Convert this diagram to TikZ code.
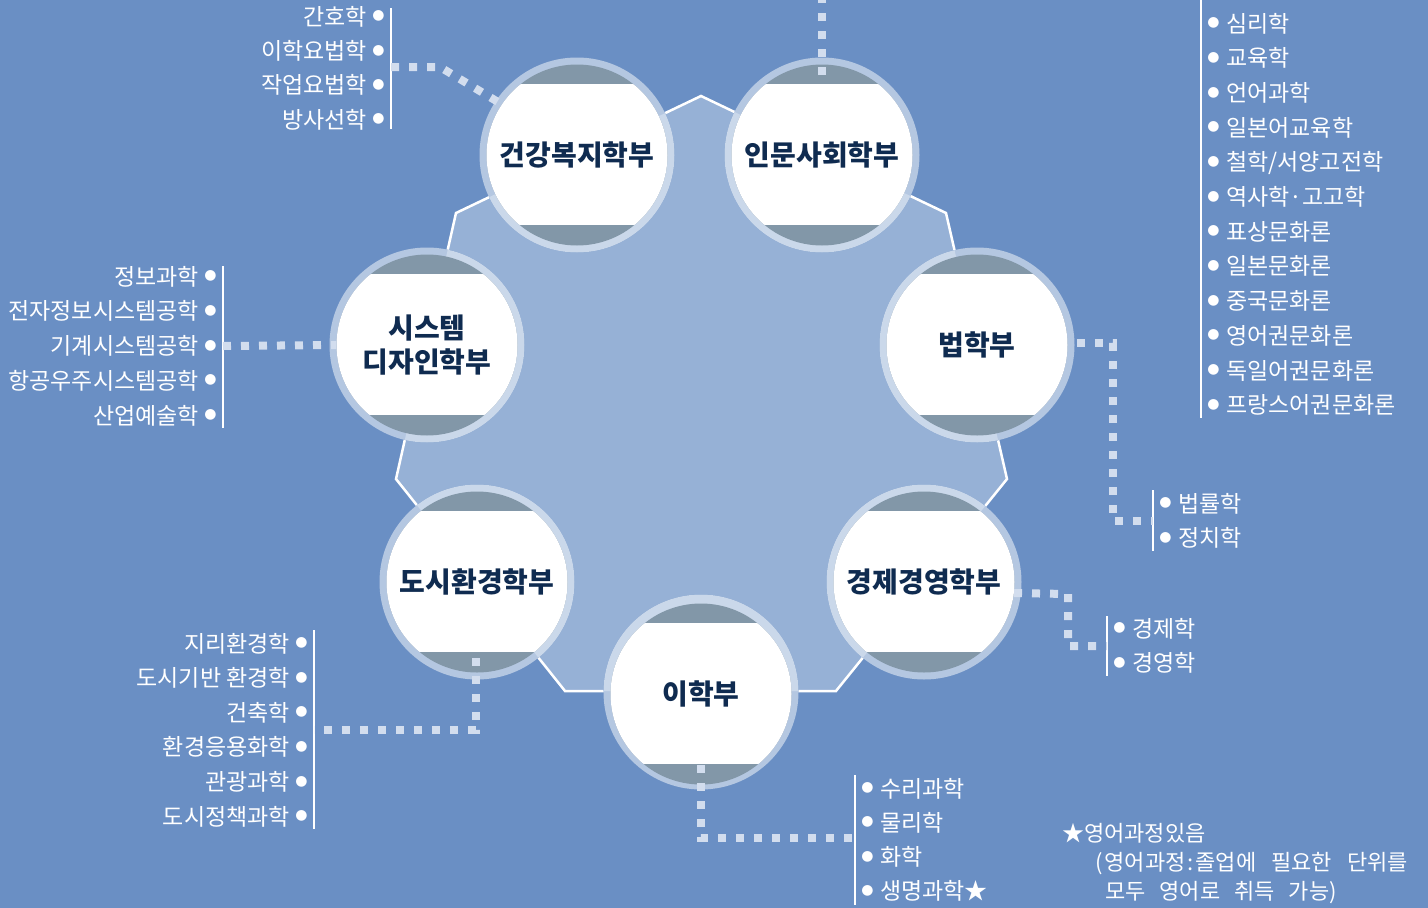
\documentclass[tikz,border=0pt]{standalone}
\usepackage{fontspec}
\setmainfont{Noto Sans CJK KR}
\newfontfamily\djfont{DejaVu Sans}
\usetikzlibrary{calc}
\definecolor{bg}{HTML}{6A8FC4}
\definecolor{polyfill}{HTML}{96B1D6}
\definecolor{capgray}{HTML}{8297A8}
\definecolor{dotcol}{HTML}{D2DDEE}
\definecolor{navy}{HTML}{0F2B50}
\newcommand\mypoly{(701,96) -- (946,213) -- (1007,479) -- (836,691) -- (565,691) -- (396,479) -- (456,213) -- cycle}
\tikzset{
  school/.style={circle, minimum size=181pt, inner sep=0pt, fill=capgray, text=navy,
    font=\fontsize{28}{34}\selectfont\bfseries, align=center,
    path picture={\fill[white] ([xshift=-100pt,yshift=-70pt]path picture bounding box.center) rectangle ([xshift=100pt,yshift=71pt]path picture bounding box.center);}},
  dotline/.style={dotcol, line width=8pt, dash pattern=on 8pt off 10pt},
  listline/.style={white, line width=1.8pt},
  litem/.style={text=white, font=\fontsize{23}{23}\selectfont, inner sep=0pt},
  notetext/.style={text=white, font=\fontsize{22}{22}\selectfont, inner sep=0pt, anchor=base west},
  bul/.style={text=white, font={\djfont\fontsize{14}{14}\selectfont}, inner sep=0pt},
}
\begin{document}
\begin{tikzpicture}[x=1pt,y=-1pt]
\useasboundingbox (0,0) rectangle (1428,908);
\fill[bg] (0,0) rectangle (1428,908);
\fill[polyfill] \mypoly;
\draw[white, line width=2.5pt] \mypoly;
% circle centres
\coordinate (p1) at (577,155);
\coordinate (p2) at (822,155);
\coordinate (p3) at (427,345);
\coordinate (p4) at (977,345);
\coordinate (p5) at (477,582);
\coordinate (p6) at (924,582);
\coordinate (p7) at (701,692);
\foreach \n in {p1,p2,p3,p4,p5,p6,p7}{
  \fill[bg] (\n) circle (97.5pt);
  \begin{scope}\clip \mypoly; \fill[polyfill] (\n) circle (97.5pt);\end{scope}
  \fill[white, opacity=.5] (\n) circle (97.5pt);
}
% school nodes
\node[school] (c1) at (p1) {건강복지학부};
\node[school] (c2) at (p2) {인문사회학부};
\node[school] (c3) at (p3) {시스템\\디자인학부};
\node[school] (c4) at (p4) {법학부};
\node[school] (c5) at (p5) {도시환경학부};
\node[school] (c6) at (p6) {경제경영학부};
\node[school] (c7) at ($(p7)+(0,2)$) {이학부};

% ---- list lines
\coordinate (hA) at (391,8);    \coordinate (hB) at (391,129);
\coordinate (iA) at (1201,0);   \coordinate (iB) at (1201,418);
\coordinate (sA) at (223,266);  \coordinate (sB) at (223,428);
\coordinate (lA) at (1153,490); \coordinate (lB) at (1153,551);
\coordinate (eA) at (1107,616); \coordinate (eB) at (1107,676);
\coordinate (dA) at (314,630);  \coordinate (dB) at (314,829);
\coordinate (rA) at (855,775);  \coordinate (rB) at (855,905);
\foreach \a/\b in {hA/hB,iA/iB,sA/sB,lA/lB,eA/eB,dA/dB,rA/rB}{\draw[listline] (\a) -- (\b);}

% ---- left lists (text, bullet)
\foreach \t [count=\i] in {간호학,이학요법학,작업요법학,방사선학}{
  \node[litem, anchor=base east] (h\i) at (367,{16+(\i-1)*34.4+9}) {\t};
  \node[bul] (hb\i) at (378.5,{16+(\i-1)*34.4}) {●};
}
\foreach \t [count=\i] in {정보과학,전자정보시스템공학,기계시스템공학,항공우주시스템공학,산업예술학}{
  \node[litem, anchor=base east] (s\i) at (199,{276+(\i-1)*34.75+9}) {\t};
  \node[bul] (sb\i) at (210.5,{276+(\i-1)*34.75}) {●};
}
\foreach \t [count=\i] in {지리환경학,도시기반 환경학,건축학,환경응용화학,관광과학,도시정책과학}{
  \node[litem, anchor=base east] (d\i) at (290,{643+(\i-1)*34.6+9}) {\t};
  \node[bul] (db\i) at (301.5,{643+(\i-1)*34.6}) {●};
}
% ---- right lists (bullet, text)
\foreach \t [count=\i] in {심리학,교육학,언어과학,일본어교육학,철학/서양고전학,역사학·고고학,표상문화론,일본문화론,중국문화론,영어권문화론,독일어권문화론,프랑스어권문화론}{
  \node[bul] (ib\i) at (1213.5,{23+(\i-1)*34.7}) {●};
  \node[litem, anchor=base west] (i\i) at (1226,{23+(\i-1)*34.7+9}) {\t};
}
\foreach \t [count=\i] in {법률학,정치학}{
  \node[bul] (lb\i) at (1165.5,{503+(\i-1)*34.5}) {●};
  \node[litem, anchor=base west] (l\i) at (1178,{503+(\i-1)*34.5+9}) {\t};
}
\foreach \t [count=\i] in {경제학,경영학}{
  \node[bul] (eb\i) at (1119.5,{628+(\i-1)*34.5}) {●};
  \node[litem, anchor=base west] (e\i) at (1132,{628+(\i-1)*34.5+9}) {\t};
}
\foreach \t [count=\i] in {수리과학,물리학,화학,생명과학★}{
  \node[bul] (rb\i) at (867.5,{788+(\i-1)*34.3}) {●};
  \node[litem, anchor=base west] (r\i) at (880,{788+(\i-1)*34.3+9}) {\t};
}

% ---- note
\node[notetext] (n1) at (1062,841) {★영어과정있음};
\node[notetext] (n2) at (1095,870) {(\hspace{2pt}영어과정\hspace{2pt}:\hspace{2pt}졸업에\hspace{15pt}필요한\hspace{15pt}단위를};
\node[notetext] (n3) at (1105,899) {모두\hspace{14pt}영어로\hspace{14pt}취득\hspace{14pt}가능)};

% ---- dotted connectors
\coordinate (hJ) at (391,67);  \coordinate (hK) at (440,67);
\draw[dotline] (hJ) -- (hK) -- (c1.146);
\coordinate (iJ) at (822,0);
\draw[dotline] ($(c2)+(0,-80)$) -- (iJ);
\coordinate (sJ) at (223,346);
\draw[dotline] (sJ) -- (c3.west);
\coordinate (lS) at (1077,343); \coordinate (lK) at (1113,343); \coordinate (lJ) at (1153,521);
\draw[dotline] (lS) -- (lK) -- (lK |- lJ) -- (lJ);
\coordinate (eK) at (1068,594); \coordinate (eJ) at (1107,646);
\draw[dotline] (c6.-7.6) -- (eK) -- (eK |- eJ) -- (eJ);
\coordinate (dK) at (476,730); \coordinate (dJ) at (314,730);
\draw[dotline] ($(c5)+(-1,76)$) -- (dK) -- (dJ);
\coordinate (rK) at (701,838); \coordinate (rJ) at (855,838);
\draw[dotline] ($(p7)+(0,73)$) -- (rK) -- (rJ);
\end{tikzpicture}
\end{document}
